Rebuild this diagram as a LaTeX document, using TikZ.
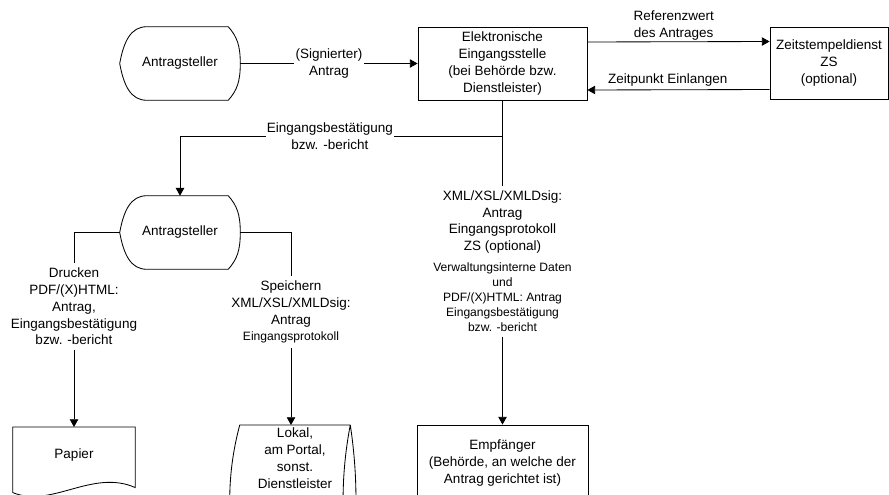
\documentclass[tikz,border=0pt]{standalone}
\usepackage{fontspec}
\setmainfont{Liberation Sans}
\usepackage{tikz}
\usetikzlibrary{arrows.meta}
\usetikzlibrary{positioning}
\usetikzlibrary{calc}

\newcommand{\mainsz}{\fontsize{9.6}{11.9}\selectfont}
\newcommand{\smallsz}{\fontsize{8.6}{10.7}\selectfont}

\tikzset{
  lbl/.style={align=center, font=\mainsz},
  box/.style={draw, rectangle, align=center, font=\mainsz, line width=0.6pt},
  dispnode/.style={rectangle, align=center, font=\mainsz, minimum width=3cm, minimum height=1.825cm},
  arr/.style={-{Triangle[length=5.5pt,width=6pt]}, line width=0.6pt},
  con/.style={line width=0.6pt}
}

\begin{document}
\begin{tikzpicture}
          \useasboundingbox (0,0) rectangle (22.225,-12.35);
          \clip (0,0) rectangle (22.225,-12.35);

          % top row
          \node[dispnode] (app1) at (4.5,-1.5875) {Antragsteller};
          \node[box, minimum width=4.225cm, minimum height=1.825cm] (eing) at (12.5625,-1.5875)
               {Elektronische\\Eingangsstelle\\(bei Behörde bzw.\\Dienstleister)};
          \node[box, minimum width=2.95cm, minimum height=1.8cm] (zeit) at (20.725,-1.575)
               {Zeitstempeldienst\\ZS\\(optional)};

          \draw[arr] (app1) -- node[lbl, fill=white, inner sep=1pt] {(Signierter)\\Antrag} (eing);
          \draw[arr] ([yshift=0.5375cm]eing.east) -- node[lbl, above, inner sep=1pt, xshift=-0.12cm]
               {Referenzwert\\des Antrages} ([yshift=0.5375cm]zeit.west);
          \draw[arr] ([yshift=-0.6625cm]zeit.west) -- node[lbl, above, inner sep=2pt, xshift=-0.27cm]
               {Zeitpunkt Einlangen} ([yshift=-0.6625cm]eing.east);

          % second applicant and its outputs
          \node[dispnode] (app2) at (4.5,-5.8125) {Antragsteller};
          \coordinate (br) at ([yshift=-0.9cm]eing.south);
          \draw[arr] (br) -- node[lbl, fill=white, inner sep=1pt, pos=0.535]
               {Eingangsbestätigung\\bzw. -bericht} (br -| app2) -- (app2);

          \node[lbl] (druck) at (1.85,-7.6625)
               {Drucken\\PDF/(X)HTML:\\Antrag,\\Eingangsbestätigung\\bzw. -bericht};
          \node[lbl] (speich) at (7.275,-7.8)
               {Speichern\\XML/XSL/XMLDsig:\\Antrag\\{\smallsz Eingangsprotokoll}};
          \draw[con] (app2.west) -| (druck);
          \draw[con] (app2.east) -| (speich);

          \node[lbl, minimum width=3.05cm, minimum height=1.4cm, anchor=north] (papier) at (1.85,-10.675) {Papier};
          \node[lbl, minimum width=2.75cm, inner ysep=2pt, anchor=north] (store) at (7.375,-10.625)
               {Lokal,\\am Portal,\\sonst.\\Dienstleister};
          \draw[arr] (druck) -- (papier);
          \draw[arr] (speich.south) -- (speich.south |- store.north);

          % middle column
          \node[lbl] (midtop) at (12.5625,-5.55)
               {XML/XSL/XMLDsig:\\Antrag\\Eingangsprotokoll\\ZS (optional)};
          \node[lbl, font=\smallsz] (midbot) at (12.5625,-7.4375)
               {Verwaltungsinterne Daten\\und\\PDF/(X)HTML: Antrag\\Eingangsbestätigung\\bzw. -bericht};
          \node[box, minimum width=4.275cm, minimum height=1.9cm] (empf) at (12.5625,-11.575)
               {Empfänger\\(Behörde, an welche der\\Antrag gerichtet ist)};
          \draw[con] (eing) -- (midtop);
          \draw[arr] (midbot) -- (empf);

          % outlines of the special shapes
          \foreach \n in {app1,app2}
            \draw[con] (\n.west) .. controls +(0.1,0.55) and +(-0.4,0) .. ([xshift=0.675cm]\n.north west)
              -- ([xshift=-0.3cm]\n.north east) .. controls +(0.22,-0.25) and +(0,0.45) .. (\n.east)
              .. controls +(0,-0.45) and +(0.22,0.25) .. ([xshift=-0.3cm]\n.south east)
              -- ([xshift=0.675cm]\n.south west) .. controls +(-0.4,0) and +(0.1,-0.55) .. (\n.west) -- cycle;

          \draw[con] (papier.north west) -- (papier.north east) -- ([yshift=-0.1cm]papier.south east)
              .. controls +(-1.075,0.475) and +(0.975,-0.4) .. ([yshift=-0.225cm]papier.south west) -- cycle;

          \draw[con] (store.north west) -- (store.north east)
              (store.north west) .. controls +(-0.333,-1.25) and +(-0.333,1.25) .. ([yshift=-3.75cm]store.north west)
              (store.north east) .. controls +(0.19,-1.25) and +(0.19,1.25) .. ([yshift=-3.75cm]store.north east)
              (store.north east) .. controls +(-0.24,-1.25) and +(-0.24,1.25) .. ([yshift=-3.75cm]store.north east);

\end{tikzpicture}
\end{document}
